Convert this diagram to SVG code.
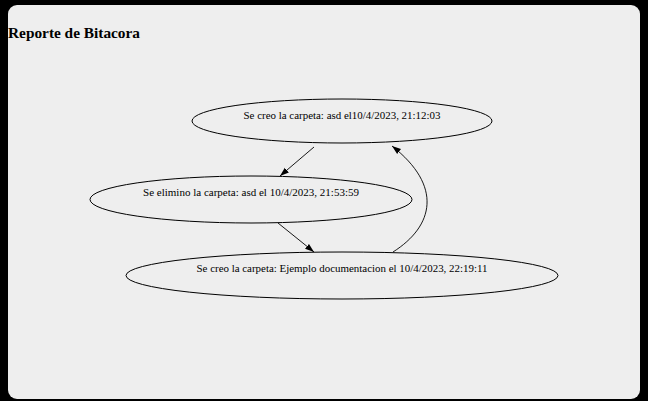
<svg xmlns="http://www.w3.org/2000/svg" width="648" height="401" viewBox="0 0 648 401">
<style>
.node ellipse{fill:none;stroke:#000;stroke-width:1}
.node text{font-family:"Liberation Serif","Times New Roman",serif;font-size:10.5px;fill:#000;text-anchor:middle}
.edge{fill:none;stroke:#000;stroke-width:0.9}
.title{font-family:"Liberation Serif","Times New Roman",serif;font-size:15px;font-weight:bold;fill:#000}
</style>
<defs>
<marker id="arr" viewBox="0 0 10 10" refX="10" refY="5" markerWidth="9" markerHeight="9" markerUnits="userSpaceOnUse" orient="auto">
<path d="M0,1.5 L10,5 L0,8.5 Z" fill="#000"/>
</marker>
</defs>
<rect x="0" y="0" width="648" height="401" fill="#000"/>
<rect x="8" y="5" width="632" height="394" rx="9" ry="9" fill="#eeeeee"/>
<text class="title" x="8" y="38" textLength="132" lengthAdjust="spacingAndGlyphs">Reporte de Bitacora</text>
<g id="connectors">
<path class="edge" d="M314,147 L280,176" marker-end="url(#arr)"/>
<path class="edge" d="M278,223 L314,252" marker-end="url(#arr)"/>
<path class="edge" d="M393,252 C434,226 443,186 392,146" marker-end="url(#arr)"/>
</g>
<g id="node1" class="node">
<ellipse cx="342" cy="121" rx="150" ry="22"/>
<text x="342" y="119" textLength="197" lengthAdjust="spacingAndGlyphs">Se creo la carpeta: asd el10/4/2023, 21:12:03</text>
</g>
<g id="node2" class="node">
<ellipse cx="251" cy="199.5" rx="161" ry="23.5"/>
<text x="251" y="196" textLength="216" lengthAdjust="spacingAndGlyphs">Se elimino la carpeta: asd el 10/4/2023, 21:53:59</text>
</g>
<g id="node3" class="node">
<ellipse cx="342" cy="275.5" rx="216" ry="23.5"/>
<text x="342" y="272" textLength="291" lengthAdjust="spacingAndGlyphs">Se creo la carpeta: Ejemplo documentacion el 10/4/2023, 22:19:11</text>
</g>
</svg>
